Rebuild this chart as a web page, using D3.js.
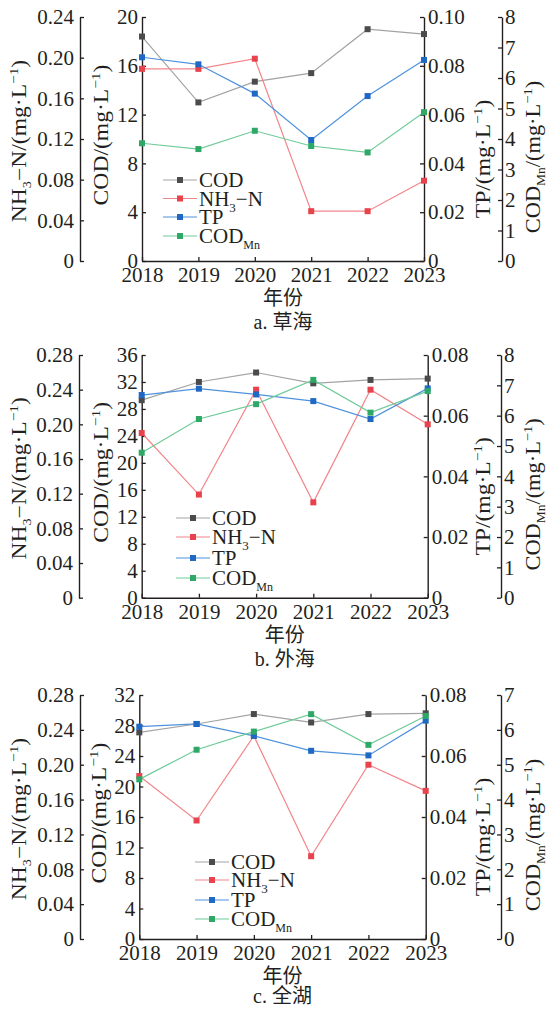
<!DOCTYPE html>
<html>
<head>
<meta charset="utf-8">
<script src="https://cdn.jsdelivr.net/npm/d3@7"></script>
<style>
  html, body { margin: 0; padding: 0; background: #fff; }
  svg { display: block; }
  text { font-family: "Liberation Serif", "Noto Sans CJK SC", serif; fill: #231f20; }
</style>
</head>
<body>
<svg id="chart" width="547" height="1009"></svg>
<script>
// Years on the x axis
const years = [2018, 2019, 2020, 2021, 2022, 2023];

// a. 草海
const codCaohai   = [18.4, 13.0, 14.7, 15.4, 19.0, 18.6];
const nh3Caohai   = [0.189, 0.189, 0.199, 0.049, 0.049, 0.079];
const tpCaohai    = [0.0835, 0.0806, 0.0686, 0.0496, 0.0676, 0.0824];
const codmnCaohai = [3.86, 3.67, 4.27, 3.77, 3.56, 4.88];

// b. 外海
const codWaihai   = [29.3, 32.0, 33.4, 31.8, 32.3, 32.5];
const nh3Waihai   = [0.190, 0.119, 0.240, 0.110, 0.240, 0.200];
const tpWaihai    = [0.0668, 0.0689, 0.0670, 0.0648, 0.0589, 0.0690];
const codmnWaihai = [4.78, 5.89, 6.38, 7.18, 6.10, 6.81];

// c. 全湖
const codQuanhu   = [27.1, 28.2, 29.5, 28.4, 29.5, 29.6];
const nh3Quanhu   = [0.187, 0.136, 0.233, 0.095, 0.200, 0.170];
const tpQuanhu    = [0.0696, 0.0705, 0.0666, 0.0617, 0.0602, 0.0716];
const codmnQuanhu = [4.58, 5.43, 5.95, 6.45, 5.57, 6.40];

// Tick values per axis
const codTicksA   = [0, 4, 8, 12, 16, 20];
const codTicksB   = [0, 4, 8, 12, 16, 20, 24, 28, 32, 36];
const codTicksC   = [0, 4, 8, 12, 16, 20, 24, 28, 32];
const nh3TicksA   = [0, 0.04, 0.08, 0.12, 0.16, 0.20, 0.24];
const nh3TicksBC  = [0, 0.04, 0.08, 0.12, 0.16, 0.20, 0.24, 0.28];
const tpTicksA    = [0, 0.02, 0.04, 0.06, 0.08, 0.10];
const tpTicksBC   = [0, 0.02, 0.04, 0.06, 0.08];
const codmnTicksAB = [0, 1, 2, 3, 4, 5, 6, 7, 8];
const codmnTicksC  = [0, 1, 2, 3, 4, 5, 6, 7];

// Series names and colours
const seriesNames = ["COD", "NH3-N", "TP", "CODMn"];
const lineColors   = ["#a3a3a3", "#f2858a", "#4f92dc", "#6fcb98"];
const markerColors = ["#4b4b4d", "#e8424c", "#1f68c3", "#2ea866"];

const svg = d3.select("#chart");
const FS = 21;

const fmt2 = d => d === 0 ? "0" : d3.format(".2f")(d);
const fmtInt = d => String(d);

function unitLabel(g, parts) {
  // parts: array of [text, kind] where kind is "", "sub" or "sup"
  const t = g.append("text").attr("font-size", 20).attr("text-anchor", "middle");
  let shift = 0;
  parts.forEach(([s, kind]) => {
    const ts = t.append("tspan").text(s);
    let target = 0;
    if (kind === "sub") { target = 5; ts.attr("font-size", 12); }
    if (kind === "sup") { target = -8; ts.attr("font-size", 13); }
    ts.attr("dy", target - shift);
    shift = target;
  });
  return t;
}

function drawPanel(p) {
  const g = svg.append("g");
  const x = d3.scaleLinear().domain([2018, 2023]).range([p.left, p.right]);
  const yCod = d3.scaleLinear().domain([0, p.codTicks[p.codTicks.length - 1]]).range([p.bottom, p.top]);
  const yNh3 = d3.scaleLinear().domain([0, p.nh3Ticks[p.nh3Ticks.length - 1]]).range([p.bottom, p.top]);
  const yTp = d3.scaleLinear().domain([0, p.tpTicks[p.tpTicks.length - 1]]).range([p.bottom, p.top]);
  const yMn = d3.scaleLinear().domain([0, p.mnTicks[p.mnTicks.length - 1]]).range([p.bottom, p.top]);

  const styleAxis = sel => {
    sel.selectAll("path.domain").attr("stroke", "#231f20").attr("stroke-width", 1.4);
    sel.selectAll(".tick line").attr("stroke", "#231f20").attr("stroke-width", 1.3);
    sel.selectAll(".tick text").attr("font-size", FS).attr("font-family", "Liberation Serif, serif").attr("fill", "#231f20");
  };

  // NH3-N outer left axis
  g.append("g").attr("transform", `translate(${p.nhX},0)`)
    .call(d3.axisLeft(yNh3).tickValues(p.nh3Ticks).tickFormat(fmt2).tickSizeInner(-4).tickSizeOuter(0).tickPadding(6))
    .call(styleAxis);
  // COD inner left axis
  g.append("g").attr("transform", `translate(${p.left},0)`)
    .call(d3.axisLeft(yCod).tickValues(p.codTicks).tickFormat(fmtInt).tickSizeInner(-4).tickSizeOuter(0).tickPadding(4))
    .call(styleAxis);
  // TP inner right axis
  g.append("g").attr("transform", `translate(${p.right},0)`)
    .call(d3.axisRight(yTp).tickValues(p.tpTicks).tickFormat(fmt2).tickSizeInner(-4).tickSizeOuter(0).tickPadding(4))
    .call(styleAxis);
  // CODMn outer right axis
  g.append("g").attr("transform", `translate(${p.mnX},0)`)
    .call(d3.axisRight(yMn).tickValues(p.mnTicks).tickFormat(fmtInt).tickSizeInner(-4).tickSizeOuter(0).tickPadding(3))
    .call(styleAxis);
  // Year axis
  g.append("g").attr("transform", `translate(0,${p.bottom})`)
    .call(d3.axisBottom(x).tickValues(years).tickFormat(d3.format("d")).tickSizeInner(-4).tickSizeOuter(0).tickPadding(6))
    .call(styleAxis);

  // Axis titles (drawn slightly elongated along their reading direction)
  const midY = (p.top + p.bottom) / 2;
  unitLabel(g, [["NH", ""], ["3", "sub"], ["−N/(mg·L", ""], ["−1", "sup"], [")", ""]])
    .attr("transform", `translate(${p.nhTitleX},${midY + 2}) rotate(-90) scale(1.18,1)`);
  unitLabel(g, [["COD/(mg·L", ""], ["−1", "sup"], [")", ""]])
    .attr("transform", `translate(${p.codTitleX},${midY - 4}) rotate(-90) scale(1.18,1)`);
  unitLabel(g, [["TP/(mg·L", ""], ["−1", "sup"], [")", ""]])
    .attr("transform", `translate(${p.tpTitleX},${midY + 20}) rotate(-90) scale(1.18,1)`);
  unitLabel(g, [["COD", ""], ["Mn", "sub"], ["/(mg·L", ""], ["−1", "sup"], [")", ""]])
    .attr("transform", `translate(${p.mnTitleX},${midY + 18}) rotate(-90) scale(1.12,1)`);

  // Series
  const scales = [yCod, yNh3, yTp, yMn];
  p.series.forEach((vals, i) => {
    const pts = years.map((yr, j) => [x(yr), scales[i](vals[j])]);
    g.append("path").attr("d", d3.line()(pts))
      .attr("fill", "none").attr("stroke", lineColors[i]).attr("stroke-width", 1.2);
    g.selectAll(null).data(pts).join("rect")
      .attr("x", d => d[0] - 3).attr("y", d => d[1] - 3)
      .attr("width", 6).attr("height", 6)
      .attr("fill", markerColors[i]);
  });

  // Legend
  seriesNames.forEach((name, i) => {
    const ly = p.legendY[i];
    g.append("line").attr("x1", p.legendX).attr("x2", p.legendX + 34)
      .attr("y1", ly).attr("y2", ly).attr("stroke", lineColors[i]).attr("stroke-width", 1.2);
    g.append("rect").attr("x", p.legendX + 17 - 3).attr("y", ly - 3)
      .attr("width", 6).attr("height", 6).attr("fill", markerColors[i]);
    const t = g.append("text").attr("x", p.legendX + 36).attr("y", ly + 7).attr("font-size", FS);
    if (name === "NH3-N") {
      t.append("tspan").text("NH");
      t.append("tspan").text("3").attr("font-size", 13).attr("dy", 6);
      t.append("tspan").text("−N").attr("dy", -6);
    } else if (name === "CODMn") {
      t.append("tspan").text("COD");
      t.append("tspan").text("Mn").attr("font-size", 12).attr("dy", 6);
    } else {
      t.text(name);
    }
  });

  // X title and caption
  const cx = (p.left + p.right) / 2;
  g.append("text").attr("x", cx).attr("y", p.bottom + 44).attr("text-anchor", "middle")
    .attr("font-size", 20).attr("font-family", "Noto Sans CJK SC, sans-serif").text("年份");
  const cap = g.append("text").attr("x", cx).attr("y", p.bottom + p.captionDy).attr("text-anchor", "middle").attr("font-size", 20);
  cap.append("tspan").text(p.captionLetter + " ");
  cap.append("tspan").attr("font-family", "Noto Sans CJK SC, sans-serif").text(p.captionName);
}

drawPanel({
  left: 142, right: 424, top: 17, bottom: 261, nhX: 80, mnX: 502,
  nhTitleX: 26, codTitleX: 108, tpTitleX: 490, mnTitleX: 540,
  codTicks: codTicksA, nh3Ticks: nh3TicksA, tpTicks: tpTicksA, mnTicks: codmnTicksAB,
  series: [codCaohai, nh3Caohai, tpCaohai, codmnCaohai],
  legendX: 163, legendY: [180, 198.5, 217, 236],
  captionLetter: "a.", captionName: "草海", captionDy: 68
});
drawPanel({
  left: 141.7, right: 427.7, top: 355, bottom: 597.7, nhX: 79, mnX: 501,
  nhTitleX: 26, codTitleX: 108, tpTitleX: 490, mnTitleX: 540,
  codTicks: codTicksB, nh3Ticks: nh3TicksBC, tpTicks: tpTicksBC, mnTicks: codmnTicksAB,
  series: [codWaihai, nh3Waihai, tpWaihai, codmnWaihai],
  legendX: 176, legendY: [518, 537, 558, 578],
  captionLetter: "b.", captionName: "外海", captionDy: 68
});
drawPanel({
  left: 139.3, right: 425.7, top: 695, bottom: 939, nhX: 80, mnX: 501,
  nhTitleX: 26, codTitleX: 106, tpTitleX: 490, mnTitleX: 540,
  codTicks: codTicksC, nh3Ticks: nh3TicksBC, tpTicks: tpTicksBC, mnTicks: codmnTicksC,
  series: [codQuanhu, nh3Quanhu, tpQuanhu, codmnQuanhu],
  legendX: 195, legendY: [862, 880, 900, 919],
  captionLetter: "c.", captionName: "全湖", captionDy: 64
});
</script>
</body>
</html>
